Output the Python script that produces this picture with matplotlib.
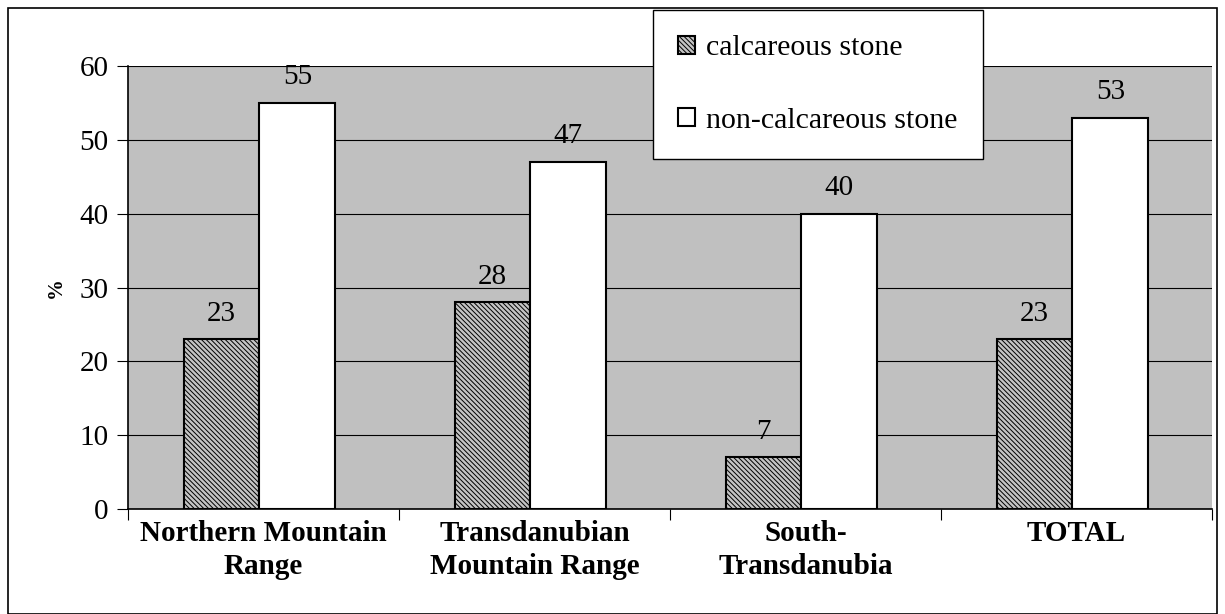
import matplotlib
matplotlib.use("Agg")
import matplotlib.pyplot as plt
from matplotlib.patches import Rectangle
import numpy as np

categories = ["Northern Mountain\nRange", "Transdanubian\nMountain Range", "South-\nTransdanubia", "TOTAL"]
calcareous = [23, 28, 7, 23]
non_calcareous = [55, 47, 40, 53]
series_names = ["calcareous stone", "non-calcareous stone"]
yticks = [0, 10, 20, 30, 40, 50, 60]

plt.rcParams['font.family'] = ['Liberation Serif', 'DejaVu Serif']
plt.rcParams['hatch.linewidth'] = 0.7

fig = plt.figure(figsize=(12.25, 6.14), dpi=100)
ax = fig.add_axes([128/1225, 1-509/614, (1212-128)/1225, (509-66)/614])
ax.set_facecolor('#c0c0c0')

x = np.arange(len(categories))
w = 0.28
off = -0.015
b1 = ax.bar(x - w/2 + off, calcareous, w, facecolor='#c4c4c4', edgecolor='black',
            hatch='\\\\\\\\\\\\\\', linewidth=1.5, zorder=3, label=series_names[0])
b2 = ax.bar(x + w/2 + off, non_calcareous, w, facecolor='white', edgecolor='black',
            linewidth=1.5, zorder=3, label=series_names[1])

for xi, v in zip(x - w/2 + off, calcareous):
    ax.text(xi, v + 1.7, str(v), ha='center', va='bottom', fontsize=21)
for xi, v in zip(x + w/2 + off, non_calcareous):
    ax.text(xi, v + 1.7, str(v), ha='center', va='bottom', fontsize=21)

ax.set_xlim(-0.5, 3.5)
ax.set_ylim(0, 60)
ax.set_yticks(yticks)
ax.set_yticklabels([str(t) for t in yticks], fontsize=21)
ax.yaxis.grid(True, color='black', linewidth=0.8, zorder=0)
ax.set_axisbelow(True)
ax.set_xticks(np.arange(-0.5, 4, 1))
ax.set_xticklabels([])
ax.set_xticks(x, minor=True)
ax.set_xticklabels(categories, minor=True, fontsize=21, fontweight='bold', linespacing=1.3)
ax.tick_params(axis='x', which='minor', length=0, pad=8)
ax.tick_params(axis='x', which='major', length=8, direction='out', color='black')
ax.tick_params(axis='y', length=8, direction='out', pad=6)
for s in ['top', 'right']:
    ax.spines[s].set_visible(False)
for s in ['left', 'bottom']:
    ax.spines[s].set_linewidth(1.2)
ax.set_ylabel('%', fontsize=15, fontweight='bold', labelpad=10)

leg = fig.legend(handles=[b1, b2], labels=series_names, loc='upper left',
                 bbox_to_anchor=(653/1225, 1-10/614), fontsize=21.5,
                 frameon=True, fancybox=False, edgecolor='black', framealpha=1,
                 handlelength=0.55, handleheight=0.55, handletextpad=0.4,
                 labelspacing=1.57, borderpad=0.84, borderaxespad=0)
leg.get_frame().set_linewidth(1.0)

fig.patches.append(Rectangle((8/1225, 0), (1217-8)/1225, 1-8/614, transform=fig.transFigure,
                             fill=False, edgecolor='black', linewidth=1.2))

fig.savefig('out.png', dpi=100)
